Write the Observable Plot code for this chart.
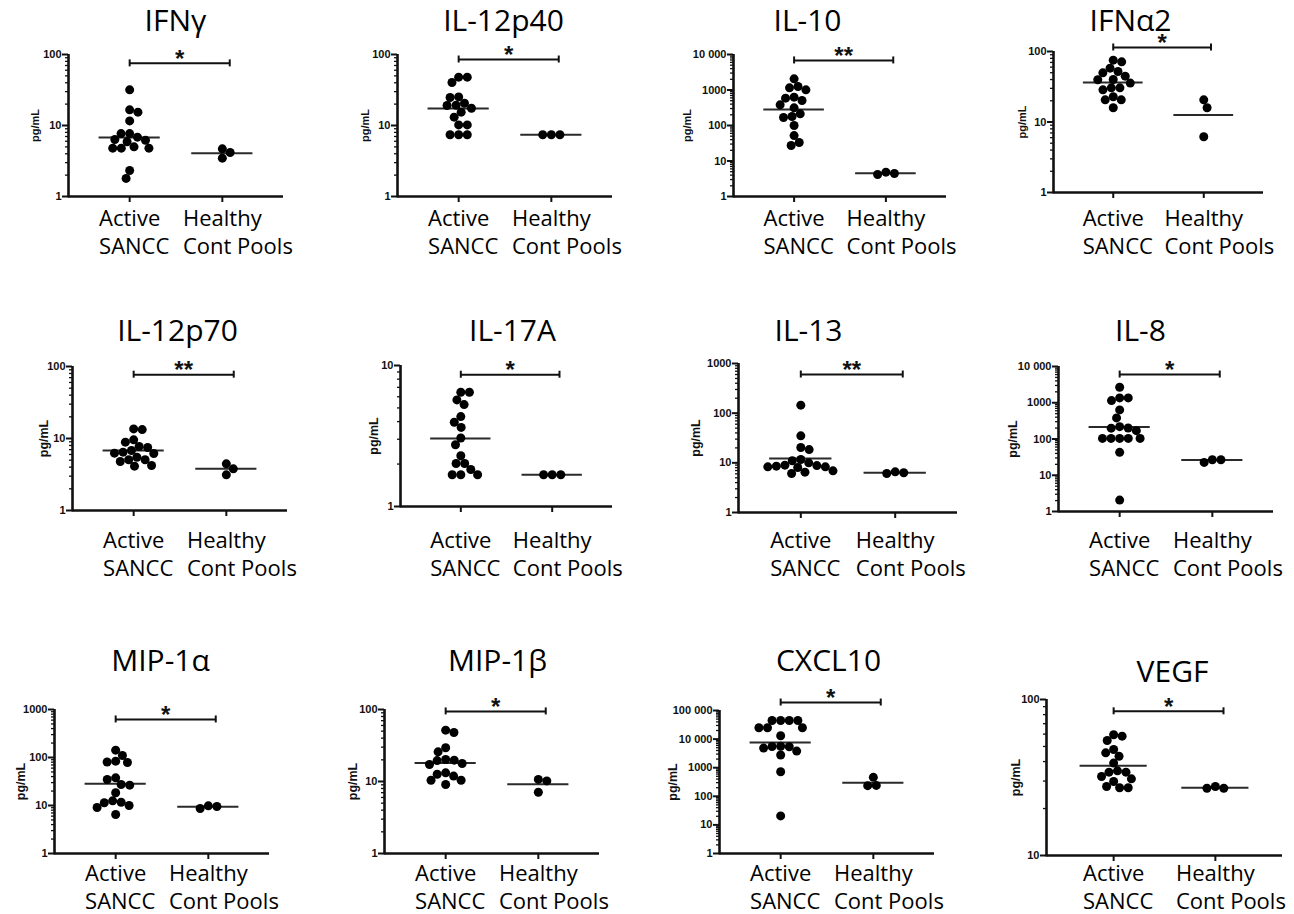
<!DOCTYPE html>
<html><head><meta charset="utf-8">
<script src="https://cdn.jsdelivr.net/npm/d3@7"></script>
<script src="https://cdn.jsdelivr.net/npm/@observablehq/plot@0.6"></script>
<style>
body{margin:0;background:#fff;}
#chart{position:relative;width:1294px;height:914px;overflow:hidden;background:#fff;}
#chart svg{position:absolute;}
</style></head><body><div id="chart"></div>
<script>
// ---------- DATA ----------
const titles = ["IFNγ","IL-12p40","IL-10","IFNα2","IL-12p70","IL-17A","IL-13","IL-8","MIP-1α","MIP-1β","CXCL10","VEGF"];
const groupLabels = ["Active\nSANCC", "Healthy\nCont Pools"];
const yDomains = [[1,100],[1,100],[1,10000],[1,100],[1,100],[1,10],[1,1000],[1,10000],[1,1000],[1,100],[1,100000],[10,100]];
const yLabel = "pg/mL";

const IFNg_active   = [31.8,16.6,15.4,11.6,7.7,7.7,6.85,6.35,6.2,5.9,5.0,4.8,4.8,4.8,2.32,1.8];
const IFNg_healthy  = [4.69,4.17,3.47];
const IL12p40_active  = [48,48,40.3,24.8,25.3,19.1,20.6,19.3,17.5,15.4,13.1,10.2,10.2,7.4,7.4,7.4];
const IL12p40_healthy = [7.4,7.4,7.4];
const IL10_active   = [2065,1150,1256,1010,589,628,506,382,315,213,179,168,100,52,27.3,33.2];
const IL10_healthy  = [4.84,4.17,4.45];
const IFNa2_active  = [75.3,71.3,58,52,49.8,44.7,40.1,39.7,35.6,30.5,30.5,28.6,22.8,20.6,20.6,15.9];
const IFNa2_healthy = [20.6,15.9,6.17];
const IL12p70_active  = [13.6,13.3,8.9,9.58,7.5,7.74,6.46,6.19,6.26,6.81,5.5,5.06,5.06,4.8,4.13,4.22];
const IL12p70_healthy = [4.45,3.79,3.13];
const IL17A_active  = [6.46,6.46,5.7,5.28,4.34,3.96,3.64,3.06,2.74,2.29,2.02,2.02,1.83,1.68,1.68,1.68];
const IL17A_healthy = [1.68,1.68,1.68];
const IL13_active   = [145,35,18.5,20.4,11.0,11.7,10.0,8.98,8.3,8.06,8.3,8.57,8.8,6.9,6.5,6.1];
const IL13_healthy  = [6.59,6.1,6.3];
const IL8_active    = [2684,1361,1361,1148,634,381,219,201,199,170,104,104,104,104,104,42.8,2.06];
const IL8_healthy   = [26.8,22.6,26.8];
const MIP1a_active  = [142,110,84,78.7,80.4,37.7,34.8,27.4,26.5,18.4,12.5,11.4,11.7,10.0,9.09,6.5];
const MIP1a_healthy = [9.85,8.66,9.55];
const MIP1b_active  = [47.9,51.6,29.4,25.8,20.2,19.5,19.8,17.2,17.8,13.2,12.6,11.9,10.4,10.4,9.08];
const MIP1b_healthy = [10.7,10.2,7.1];
const CXCL10_active  = [44800,44800,44800,44800,24900,24900,24900,13100,5400,4860,5600,5500,3810,2770,725,20.6];
const CXCL10_healthy = [460,236,240];
const VEGF_active   = [59.4,58.2,54.6,47.8,45.5,43.3,39.1,34.2,34.2,34.9,32.1,31.0,29.8,27.7,27.2,27.2];
const VEGF_healthy  = [27.7,27.0,27.0];

const activeLine  = [6.78,17.3,282,36.3,6.81,3.04,12.2,215,28.3,18.0,7650,37.6];
const healthyLine = [4.07,7.4,4.54,12.6,3.79,1.68,6.3,26.3,9.38,9.19,300,27.2];
const sigLabels = ["*","*","**","*","**","*","**","*","*","*","*","*"];
const sigLevels = [75,85,6800,114,77,8.6,600,6000,620,94,190000,84];

const activeSets  = [IFNg_active,IL12p40_active,IL10_active,IFNa2_active,IL12p70_active,IL17A_active,IL13_active,IL8_active,MIP1a_active,MIP1b_active,CXCL10_active,VEGF_active];
const healthySets = [IFNg_healthy,IL12p40_healthy,IL10_healthy,IFNa2_healthy,IL12p70_healthy,IL17A_healthy,IL13_healthy,IL8_healthy,MIP1a_healthy,MIP1b_healthy,CXCL10_healthy,VEGF_healthy];

// ---------- LAYOUT (page pixels) ----------
const frameLeft   = [68,397,733,1053, 72,400,738,1058, 54,384,719,1046];
const frameTop    = [54,54,54,51, 366,365,363,366, 709,709,710,699];
const frameBottom = [196,196,196,192, 510,506,512,511, 853,853,853,855];
const frameRight  = [283,612,946,1263, 287,612,957,1273, 269,599,934,1282];
const titleX      = [175,503,807,1130, 177,512,808,1140, 160,497,828,1172];
const titleBase   = [30,30,30,30, 340,340,340,340, 670,670,670,681];
const yLabelOff   = [33,32,46,31, 29,27,43,46, 34,32,47,31];
const yLabelSize  = [11,11,11,11, 12.5,12.5,12.5,12.5, 12.5,12.5,12.5,12.5];
const catCenterY  = [214,214,214,214, 536,536,536,536, 869,869,869,869];

const xDomain = [-0.66, 1.66];
const catFont = 22, titleFont = 30;

const ctx = document.createElement("canvas").getContext("2d");
ctx.font = `${catFont}px "Open Sans"`;
const halfFirst = groupLabels.map(s => ctx.measureText(s.split("\n")[0]).width / 2);

function swarm(values, ypx, d) {
  const pts = values.map((v, i) => ({i, y: ypx(v), x: 0}));
  const order = pts.slice().sort((a, b) => a.y - b.y);
  const placed = [];
  let sum = 0;
  for (const p of order) {
    const cands = [0];
    for (const q of placed) {
      const dy = Math.abs(p.y - q.y);
      if (dy < d) { const dx = Math.sqrt(d * d - dy * dy); cands.push(q.x + dx, q.x - dx); }
    }
    const s = Math.sign(sum) || -1;
    cands.sort((a, b) => (Math.abs(a) + 1e-6 * a * s) - (Math.abs(b) + 1e-6 * b * s));
    for (const c of cands) {
      if (placed.every(q => (q.x - c) ** 2 + (q.y - p.y) ** 2 >= d * d - 1e-6)) { p.x = c; break; }
    }
    placed.push(p); sum += p.x;
  }
  return pts.map(p => p.x);
}

function fmt(v) { return v >= 10000 ? d3.format(",")(v).replace(/,/g, " ") : String(v); }

const chart = document.getElementById("chart");
titles.forEach((title, i) => {
  const W = frameRight[i] - frameLeft[i], H = frameBottom[i] - frameTop[i];
  const mL = 70, mR = 20, mT = 80, mB = 75;
  const dom = yDomains[i];
  const yS = Plot.scale({y: {type: "log", domain: dom, range: [H, 0]}});
  const pxPerUnit = W / (xDomain[1] - xDomain[0]);
  const dots = [];
  [activeSets[i], healthySets[i]].forEach((vals, g) => {
    const off = swarm(vals, v => yS.apply(v), 8.6);
    vals.forEach((v, k) => dots.push({g, v, x: g + off[k] / pxPerUnit}));
  });
  const lines = [{g: 0, v: activeLine[i]}, {g: 1, v: healthyLine[i]}];
  const lo = Math.log10(dom[0]), hi = Math.log10(dom[1]);
  const decades = d3.range(lo, hi + 1).map(e => Math.pow(10, e));
  const minors = [];
  for (let e = lo; e < hi; e++) for (let m = 2; m <= 9; m++) minors.push(m * Math.pow(10, e));
  const sig = [{x1: 0, x2: 1.08, y: sigLevels[i], t: sigLabels[i], xm: 0.54}];
  const caps = [{x: 0, y: sigLevels[i]}, {x: 1.08, y: sigLevels[i]}];
  const catDy = catCenterY[i] - 0.357 * catFont - frameBottom[i];

  const svg = Plot.plot({
    width: W + mL + mR, height: H + mT + mB,
    marginLeft: mL, marginRight: mR, marginTop: mT, marginBottom: mB,
    style: {background: "transparent", overflow: "visible", fontFamily: "Liberation Sans, Arial, sans-serif", color: "#111"},
    x: {domain: xDomain, axis: null},
    y: {type: "log", domain: dom, axis: null},
    marks: [
      Plot.axisY({ticks: minors, tickSize: 3, tickFormat: () => "", strokeWidth: 1.3, label: null}),
      Plot.axisY({ticks: decades, tickSize: 6, tickPadding: 1, tickFormat: fmt, fontSize: 11, fontWeight: "bold", strokeWidth: 2, label: null}),
      Plot.axisX({ticks: [0, 1], tickSize: 6, tickFormat: () => "", strokeWidth: 2, label: null}),
      Plot.ruleX([xDomain[0]], {strokeWidth: 2.6, insetBottom: -1.3}),
      Plot.ruleY([dom[0]], {strokeWidth: 2.6}),
      Plot.ruleY(lines, {y: "v", x1: d => d.g - 0.33, x2: d => d.g + 0.33, strokeWidth: 2, stroke: "#2a2a2a"}),
      Plot.dot(dots, {x: "x", y: "v", r: 4.5, fill: "#000", stroke: "none"}),
      Plot.ruleY(sig, {y: "y", x1: "x1", x2: "x2", strokeWidth: 2}),
      Plot.ruleX(caps, {x: "x", y1: "y", y2: "y", insetTop: -3.5, insetBottom: -3.5, strokeWidth: 2}),
      Plot.text(sig, {x: "xm", y: "y", text: "t", dy: -4, fontSize: 24, fontWeight: "bold", lineAnchor: "middle"}),
      Plot.text([title], {frameAnchor: "top", dx: titleX[i] - (frameLeft[i] + W / 2), dy: titleBase[i] - 0.32 * titleFont - frameTop[i], lineAnchor: "middle", fontSize: titleFont, fontFamily: "Open Sans", fill: "#000"}),
      Plot.text([yLabel], {frameAnchor: "left", rotate: -90, dx: -yLabelOff[i], textAnchor: "middle", lineAnchor: "middle", fontWeight: "bold", fontSize: yLabelSize[i]}),
      Plot.text([{g: 0, y: dom[0], t: groupLabels[0]}], {x: "g", y: "y", text: "t", textAnchor: "start", lineAnchor: "top", dx: -halfFirst[0], dy: catDy, lineHeight: 1.27, fontSize: catFont, fontFamily: "Open Sans", fill: "#000"}),
      Plot.text([{g: 1, y: dom[0], t: groupLabels[1]}], {x: "g", y: "y", text: "t", textAnchor: "start", lineAnchor: "top", dx: -halfFirst[1], dy: catDy, lineHeight: 1.27, fontSize: catFont, fontFamily: "Open Sans", fill: "#000"})
    ]
  });
  svg.style.left = (frameLeft[i] - mL) + "px";
  svg.style.top = (frameTop[i] - mT) + "px";
  chart.appendChild(svg);
});
</script></body></html>
